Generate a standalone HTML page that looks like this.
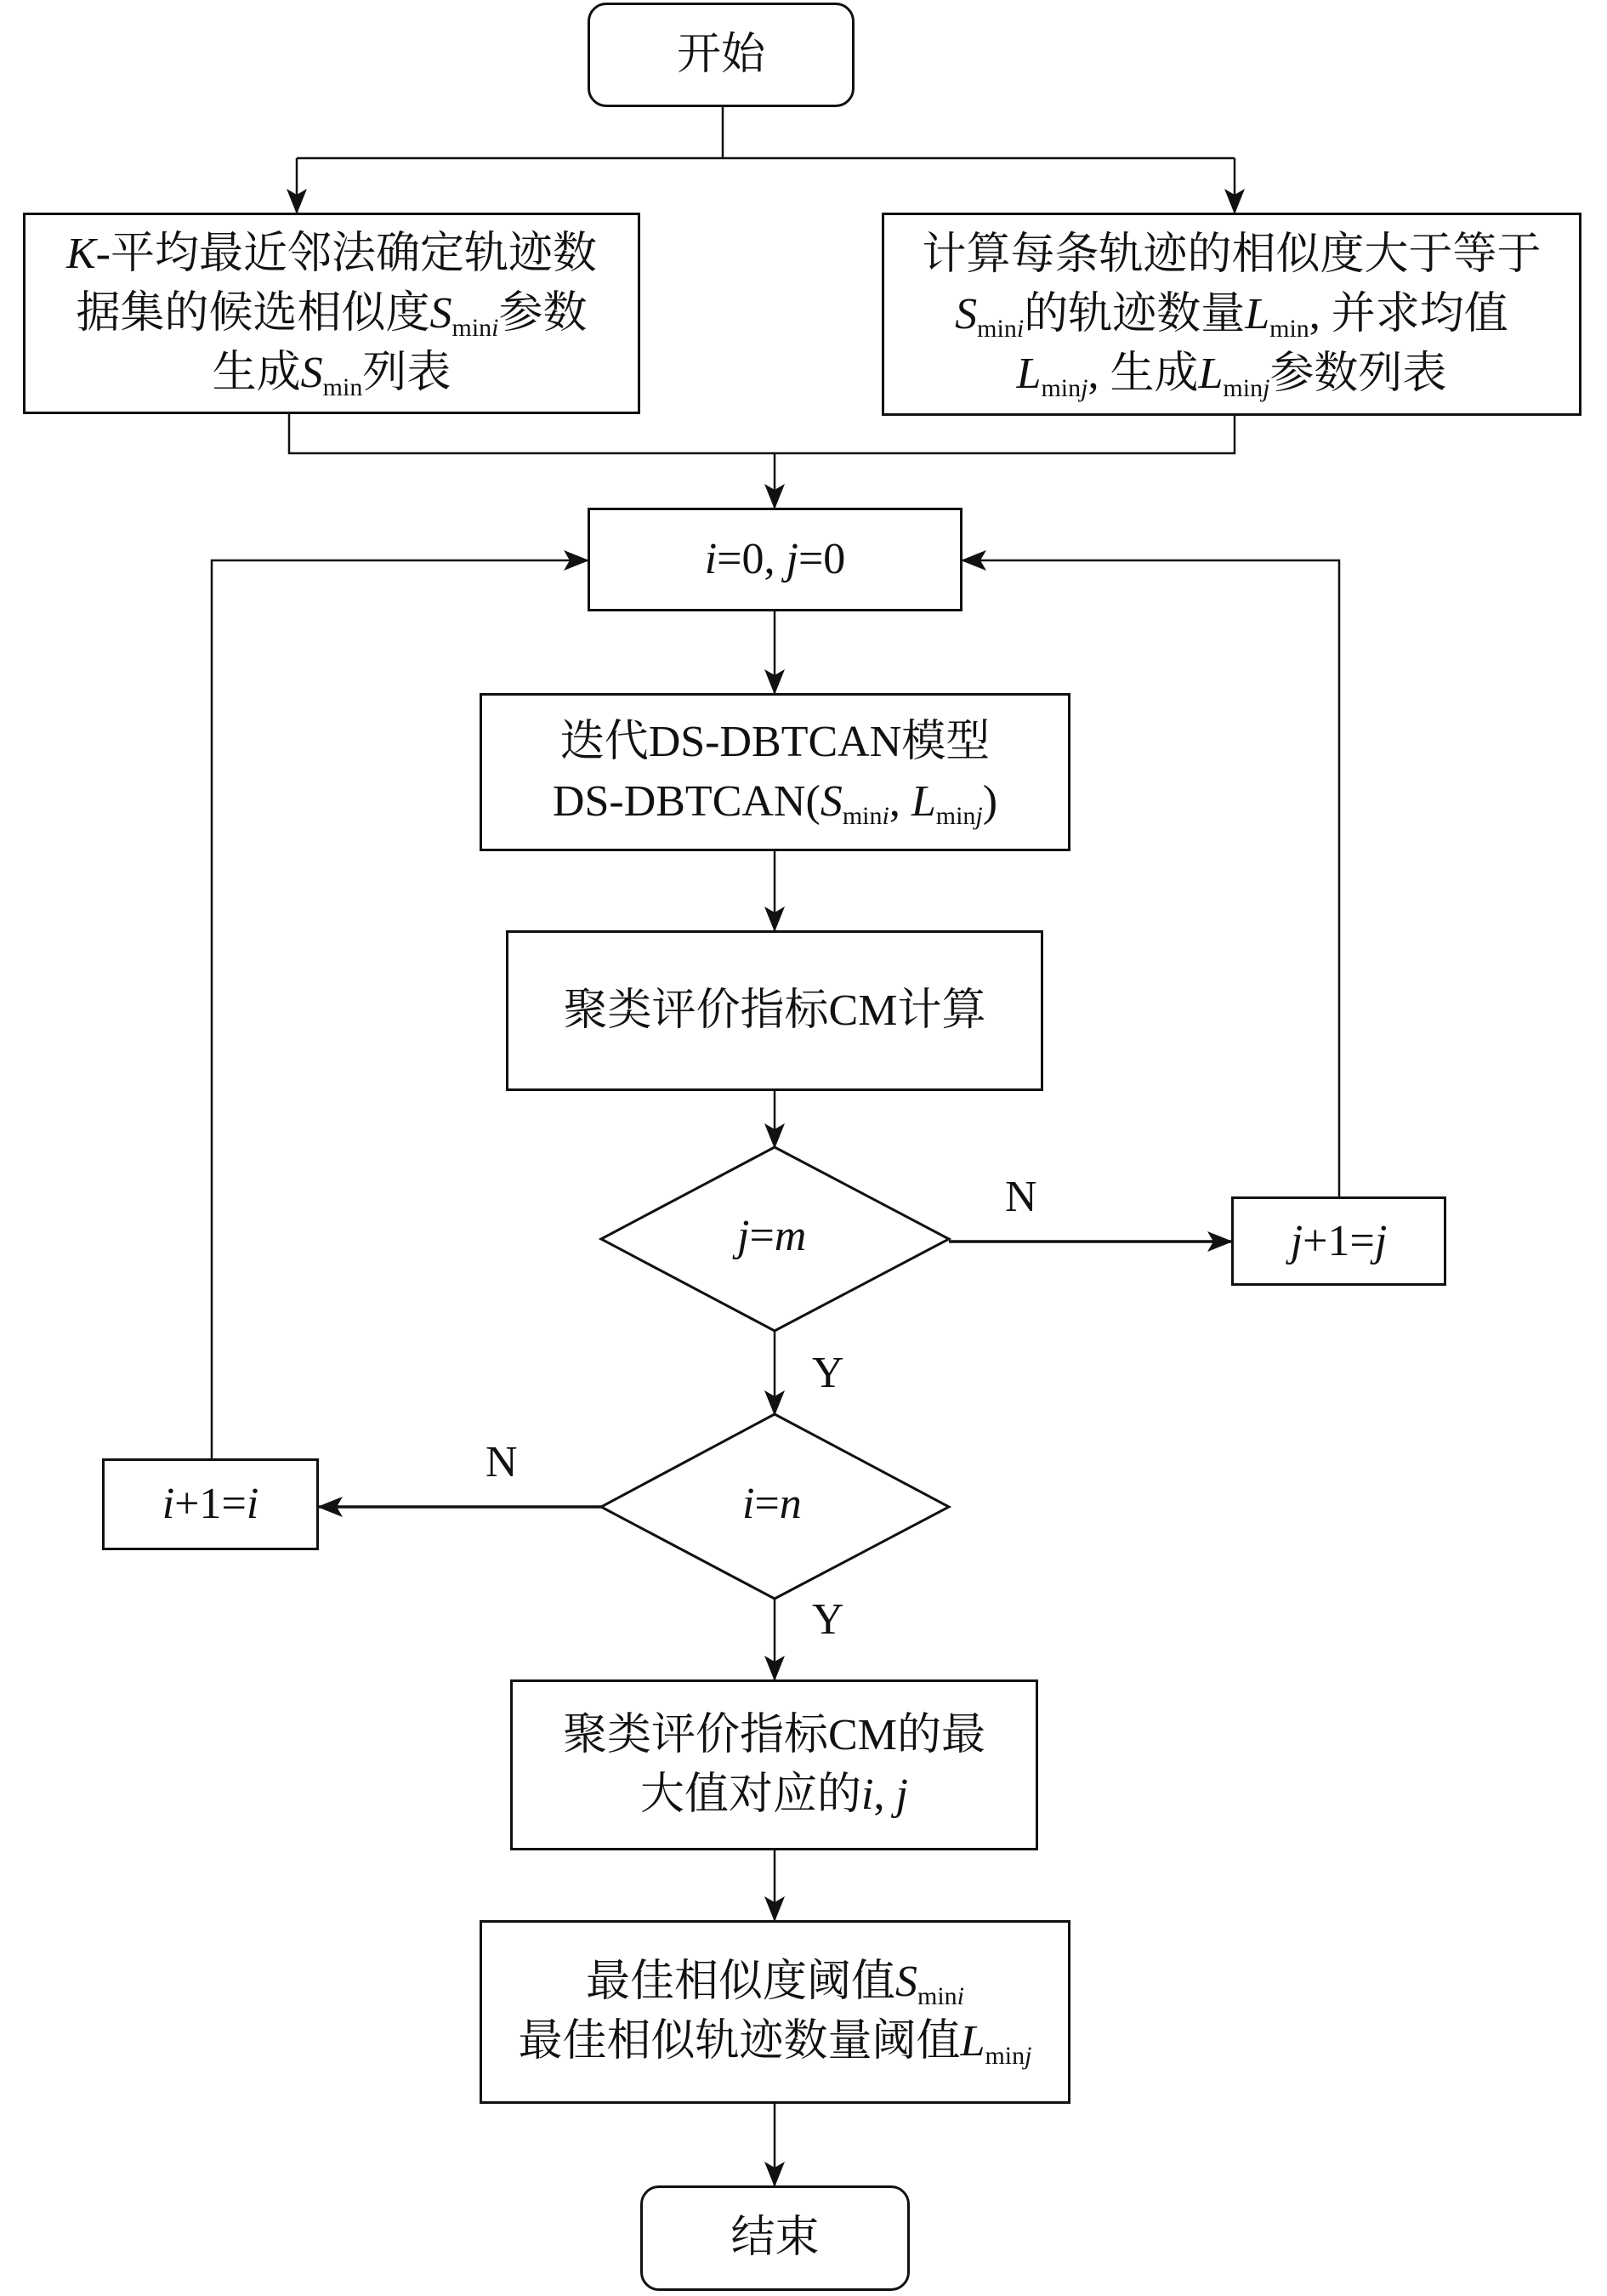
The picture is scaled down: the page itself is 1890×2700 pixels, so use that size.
<!DOCTYPE html>
<html><head><meta charset="utf-8"><style>
body{margin:0;background:#fff;}
#c{position:relative;width:1890px;height:2700px;overflow:hidden;font-family:"Liberation Serif","Noto Serif CJK SC",serif;color:#111;}
.b{position:absolute;box-sizing:border-box;border:3px solid #111;display:flex;align-items:center;justify-content:center;text-align:center;font-size:52px;line-height:70px;background:#fff;}
.r{border-radius:22px;}
sub{font-size:30px;vertical-align:-10px;line-height:0;}
.l{position:absolute;font-size:52px;}
i{font-style:italic;}
</style></head><body><div id="c">
<svg width="1890" height="2700" style="position:absolute;left:0;top:0">
<defs><marker id="a" markerWidth="12" markerHeight="12" refX="11" refY="6" orient="auto" markerUnits="userSpaceOnUse" viewBox="0 0 12 12"><path d="M0,0 L12,6 L0,12 L3,6 z" fill="#111"/></marker>
<marker id="A" markerWidth="30" markerHeight="30" refX="28" refY="15" orient="auto" markerUnits="userSpaceOnUse" viewBox="0 0 30 30"><path d="M0,3 L30,15 L0,27 L7,15 z" fill="#111"/></marker></defs>
<g stroke="#111" stroke-width="2.5" fill="none">
<path d="M850,126 V186 M349,186 H1452"/>
<path d="M349,186 V250" marker-end="url(#A)"/>
<path d="M1452,186 V250" marker-end="url(#A)"/>
<path d="M340,487 V533 H1452 V489"/>
<path d="M911,533 V597" marker-end="url(#A)"/>
<path d="M911,719 V815" marker-end="url(#A)"/>
<path d="M911,1001 V1094" marker-end="url(#A)"/>
<path d="M911,1283 V1349" marker-end="url(#A)"/>
<path d="M911,1565 V1663" marker-end="url(#A)"/>
<path d="M911,1880 V1975" marker-end="url(#A)"/>
<path d="M911,2176 V2258" marker-end="url(#A)"/>
<path d="M911,2474 V2570" marker-end="url(#A)"/>
<path d="M1116,1460 H1448" stroke-width="3.5" marker-end="url(#A)"/>
<path d="M707,1772 H375" stroke-width="3.5" marker-end="url(#A)"/>
<path d="M1575,1407 V659 H1132" marker-end="url(#A)"/>
<path d="M249,1715 V659 H691" marker-end="url(#A)"/>
<polygon points="911,1349 1116,1457 911,1565 707,1457" stroke-width="3"/>
<polygon points="911,1663 1116,1772 911,1880 707,1772" stroke-width="3"/>
</g></svg>
<div class="b r" style="left:691px;top:3px;width:314px;height:123px">开始</div>
<div class="b" style="left:27px;top:250px;width:726px;height:237px"><div><i>K</i>-平均最近邻法确定轨迹数<br>据集的候选相似度<i>S</i><sub>min<i>i</i></sub>参数<br>生成<i>S</i><sub>min</sub>列表</div></div>
<div class="b" style="left:1037px;top:250px;width:823px;height:239px"><div>计算每条轨迹的相似度大于等于<br><i>S</i><sub>min<i>i</i></sub>的轨迹数量<i>L</i><sub>min</sub>, 并求均值<br><i>L</i><sub>min<i>j</i></sub>, 生成<i>L</i><sub>min<i>j</i></sub>参数列表</div></div>
<div class="b" style="left:691px;top:597px;width:441px;height:122px"><div><i>i</i>=0, <i>j</i>=0</div></div>
<div class="b" style="left:564px;top:815px;width:695px;height:186px"><div>迭代DS-DBTCAN模型<br>DS-DBTCAN(<i>S</i><sub>min<i>i</i></sub>, <i>L</i><sub>min<i>j</i></sub>)</div></div>
<div class="b" style="left:595px;top:1094px;width:632px;height:189px">聚类评价指标CM计算</div>
<div class="l" style="left:867px;top:1424px"><i>j</i>=<i>m</i></div>
<div class="l" style="left:873px;top:1739px"><i>i</i>=<i>n</i></div>
<div class="l" style="left:1182px;top:1378px">N</div>
<div class="l" style="left:571px;top:1690px">N</div>
<div class="l" style="left:955px;top:1585px">Y</div>
<div class="l" style="left:955px;top:1875px">Y</div>
<div class="b" style="left:1448px;top:1407px;width:253px;height:105px"><div><i>j</i>+1=<i>j</i></div></div>
<div class="b" style="left:120px;top:1715px;width:255px;height:108px"><div><i>i</i>+1=<i>i</i></div></div>
<div class="b" style="left:600px;top:1975px;width:621px;height:201px"><div>聚类评价指标CM的最<br>大值对应的<i>i</i>, <i>j</i></div></div>
<div class="b" style="left:564px;top:2258px;width:695px;height:216px"><div>最佳相似度阈值<i>S</i><sub>min<i>i</i></sub><br>最佳相似轨迹数量阈值<i>L</i><sub>min<i>j</i></sub></div></div>
<div class="b r" style="left:753px;top:2570px;width:317px;height:124px">结束</div>
</div></body></html>
